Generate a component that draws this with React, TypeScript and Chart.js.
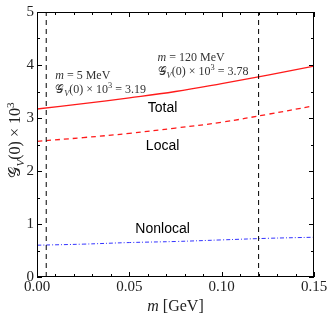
import React, { useEffect, useRef } from "react";
import { Chart, registerables } from "chart.js";

Chart.register(...registerables);

const massGeV = [0, 0.025, 0.05, 0.075, 0.1, 0.125, 0.15];
const totalVals = [3.17, 3.27, 3.38, 3.5, 3.65, 3.81, 3.98];
const localVals = [2.56, 2.63, 2.71, 2.81, 2.92, 3.07, 3.23];
const nonlocalVals = [0.6, 0.62, 0.65, 0.67, 0.7, 0.73, 0.75];
const markerMasses = [0.005, 0.12];
const markerValues = ["3.19", "3.78"];
const markerLabelsMeV = ["5", "120"];
const xTicks = [0, 0.05, 0.1, 0.15];
const yTicks = [0, 1, 2, 3, 4, 5];

type Run = { t: string; it?: boolean; sub?: boolean; sup?: boolean };

const SERIF = '"Liberation Serif", "DejaVu Serif", serif';

function runFont(r: Run, size: number) {
  const s = r.sub || r.sup ? size * 0.7 : size;
  return `${r.it ? "italic " : ""}${s}px ${SERIF}`;
}

function drawRich(ctx: CanvasRenderingContext2D, x: number, y: number, runs: Run[], size: number, align: "left" | "center") {
  let w = 0;
  for (const r of runs) {
    ctx.font = runFont(r, size);
    w += ctx.measureText(r.t).width;
  }
  let cx = align === "center" ? x - w / 2 : x;
  ctx.textBaseline = "alphabetic";
  ctx.textAlign = "left";
  for (const r of runs) {
    ctx.font = runFont(r, size);
    let dy = 0;
    if (r.sub) dy = size * 0.22;
    if (r.sup) dy = -size * 0.38;
    ctx.fillText(r.t, cx, y + dy);
    cx += ctx.measureText(r.t).width;
  }
}

const gRuns = (val: string): Run[] => [
  { t: "\u{1D4A2}", it: false },
  { t: "V", it: true, sub: true },
  { t: "(0) \u00D7 10" },
  { t: "3", sup: true },
  { t: ` = ${val}` },
];

const decoPlugin = {
  id: "deco",
  afterDatasetsDraw(chart: any) {
    const ctx: CanvasRenderingContext2D = chart.ctx;
    const { left, right, top, bottom } = chart.chartArea;
    const xs = chart.scales.x;
    const ys = chart.scales.y;
    ctx.save();
    ctx.strokeStyle = "#000";
    ctx.lineWidth = 1;
    ctx.setLineDash([]);
    ctx.strokeRect(left + 0.5, top + 0.5, right - left - 1, bottom - top - 1);
    ctx.beginPath();
    for (let i = 0; i <= 15; i++) {
      const v = i / 100;
      const px = Math.round(xs.getPixelForValue(v)) + 0.5;
      const len = i % 5 === 0 ? 5 : 3;
      ctx.moveTo(px, bottom);
      ctx.lineTo(px, bottom - len);
      ctx.moveTo(px, top);
      ctx.lineTo(px, top + len);
    }
    for (let i = 0; i <= 10; i++) {
      const v = i / 2;
      const py = Math.round(ys.getPixelForValue(v)) + 0.5;
      const len = i % 2 === 0 ? 5 : 3;
      ctx.moveTo(left, py);
      ctx.lineTo(left + len, py);
      ctx.moveTo(right, py);
      ctx.lineTo(right - len, py);
    }
    ctx.stroke();

    ctx.fillStyle = "#222";
    ctx.font = `15px ${SERIF}`;
    ctx.textAlign = "center";
    ctx.textBaseline = "top";
    for (const v of xTicks) {
      ctx.fillText(v.toFixed(2), xs.getPixelForValue(v), bottom + 3);
    }
    ctx.textAlign = "right";
    ctx.textBaseline = "middle";
    for (const v of yTicks) {
      ctx.fillText(String(v), left - 3, ys.getPixelForValue(v));
    }

    ctx.fillStyle = "#222";
    drawRich(ctx, (left + right) / 2, 311, [{ t: "m", it: true }, { t: " [GeV]" }], 16, "center");
    ctx.save();
    ctx.translate(20, 140);
    ctx.rotate(-Math.PI / 2);
    drawRich(ctx, 0, 0, [
      { t: "\u{1D4A2}" },
      { t: "V", it: true, sub: true },
      { t: "(0) \u00D7 10" },
      { t: "3", sup: true },
    ], 16, "center");
    ctx.restore();

    ctx.fillStyle = "#333";
    const annX = [xs.getPixelForValue(markerMasses[0]) + 9, xs.getPixelForValue(markerMasses[1]) - 101];
    const annY = [79, 61];
    for (let i = 0; i < 2; i++) {
      drawRich(ctx, annX[i], annY[i], [{ t: "m", it: true }, { t: ` = ${markerLabelsMeV[i]} MeV` }], 12, "left");
      drawRich(ctx, annX[i], annY[i] + 14, gRuns(markerValues[i]), 12, "left");
    }

    ctx.fillStyle = "#000";
    ctx.font = '14px "Liberation Sans", Arial, sans-serif';
    ctx.textAlign = "center";
    ctx.textBaseline = "middle";
    const lx = xs.getPixelForValue(0.068);
    ctx.fillText("Total", lx, ys.getPixelForValue(3.19));
    ctx.fillText("Local", lx, ys.getPixelForValue(2.47));
    ctx.fillText("Nonlocal", lx, ys.getPixelForValue(0.9));
    ctx.restore();
  },
};

export default function App() {
  const ref = useRef<HTMLCanvasElement>(null);
  useEffect(() => {
    document.body.style.margin = "0";
    const pts = (vals: number[]) => massGeV.map((m, i) => ({ x: m, y: vals[i] }));
    const chart = new Chart(ref.current!, {
      type: "line",
      data: {
        datasets: [
          ...markerMasses.map((m) => ({
            data: [{ x: m, y: 0 }, { x: m, y: 5 }],
            borderColor: "#000",
            borderWidth: 1,
            borderDash: [5, 4],
            pointRadius: 0,
            fill: false,
          })),
          { data: pts(totalVals), borderColor: "#ff1a1a", borderWidth: 1.3, pointRadius: 0, tension: 0.4, fill: false },
          { data: pts(localVals), borderColor: "#ff1a1a", borderWidth: 1.3, borderDash: [5, 4], pointRadius: 0, tension: 0.4, fill: false },
          { data: pts(nonlocalVals), borderColor: "#3333ff", borderWidth: 1, borderDash: [4, 2, 1, 2], pointRadius: 0, tension: 0.4, fill: false },
        ],
      },
      options: {
        animation: false,
        responsive: false,
        maintainAspectRatio: false,
        layout: { padding: { top: 12, right: 18, left: 0, bottom: 0 } },
        plugins: { legend: { display: false }, tooltip: { enabled: false } },
        scales: {
          x: {
            type: "linear",
            min: 0,
            max: 0.15,
            grid: { display: false },
            border: { display: false },
            ticks: { display: false },
            afterFit: (s: any) => { s.height = 44; },
          },
          y: {
            min: 0,
            max: 5,
            grid: { display: false },
            border: { display: false },
            ticks: { display: false },
            afterFit: (s: any) => { s.width = 37; },
          },
        },
      },
      plugins: [decoPlugin],
    } as any);
    return () => chart.destroy();
  }, []);
  return (
    <div style={{ position: "absolute", left: 0, top: 0, width: 332, height: 321, background: "#fff" }}>
      <canvas ref={ref} width={332} height={321} />
    </div>
  );
}
